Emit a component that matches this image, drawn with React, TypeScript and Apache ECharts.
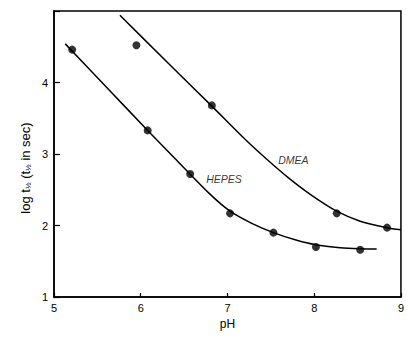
import React, { useEffect, useRef } from "react";
import * as echarts from "echarts";

const xTicks = [5, 6, 7, 8, 9];
const yTicks = [1, 2, 3, 4, 5];

const hepesPoints: [number, number][] = [
  [5.21, 4.46], [6.08, 3.33], [6.57, 2.72], [7.03, 2.17], [7.53, 1.9], [8.02, 1.7], [8.53, 1.66],
];
const dmeaPoints: [number, number][] = [
  [5.95, 4.52], [6.82, 3.68], [8.26, 2.17], [8.84, 1.97],
];
const hepesCurve: [number, number][] = [
  [5.13, 4.54], [5.6, 3.94], [6.08, 3.33], [6.4, 2.93], [6.78, 2.46],
  [7.03, 2.2], [7.28, 2.03], [7.53, 1.9], [7.78, 1.8], [8.02, 1.73], [8.3, 1.69], [8.53, 1.675], [8.72, 1.67],
];
const dmeaCurve: [number, number][] = [
  [5.76, 4.94], [6.3, 4.29], [6.82, 3.67], [7.2, 3.21], [7.45, 2.93], [7.7, 2.67],
  [7.95, 2.44], [8.26, 2.2], [8.53, 2.06], [8.84, 1.97], [9.0, 1.94],
];
const curveLabels: { name: string; value: [number, number] }[] = [
  { name: "HEPES", value: [6.96, 2.65] },
  { name: "DMEA", value: [7.76, 2.91] },
];

export default function App() {
  const ref = useRef<HTMLDivElement>(null);
  useEffect(() => {
    if (!ref.current) return;
    const chart = echarts.init(ref.current, null, { renderer: "svg" });
    const font = "Liberation Sans, Arial, sans-serif";
    chart.setOption({
      animation: false,
      backgroundColor: "#fff",
      grid: {
        left: 54, right: 3, top: 11, bottom: 40,
        show: true, borderColor: "#000", borderWidth: 1.5,
      },
      xAxis: {
        type: "value", min: xTicks[0], max: xTicks[xTicks.length - 1], interval: 1,
        name: "pH", nameLocation: "middle", nameGap: 20,
        nameTextStyle: { color: "#000", fontSize: 12, fontFamily: font },
        axisLine: { lineStyle: { color: "#000", width: 1.5 } },
        axisTick: { inside: true, length: 4, lineStyle: { color: "#000", width: 1.2 } },
        axisLabel: { color: "#000", fontSize: 11, fontFamily: font, margin: 5 },
        splitLine: { show: false },
      },
      yAxis: {
        type: "value", min: yTicks[0], max: yTicks[yTicks.length - 1], interval: 1,
        axisLine: { lineStyle: { color: "#000", width: 1.5 } },
        axisTick: { inside: true, length: 6, lineStyle: { color: "#000", width: 1.2 } },
        axisLabel: {
          color: "#000", fontSize: 11, fontFamily: font, margin: 6,
          formatter: (v: number) => (v === 5 ? "" : String(v)),
        },
        splitLine: { show: false },
      },
      graphic: [
        {
          type: "text",
          x: 25, y: 168, rotation: Math.PI / 2,
          style: {
            text: "log t{s|½} (t{s|½} in sec)",
            fill: "#000", fontSize: 13, fontFamily: font,
            align: "center", verticalAlign: "middle",
            rich: { s: { fontSize: 8, fill: "#000", fontFamily: font, padding: [6, 0, 0, 0] } },
          },
        },
      ],
      series: [
        {
          type: "line", data: hepesCurve, showSymbol: false, smooth: 0.25,
          lineStyle: { color: "#000", width: 1.5 }, silent: true,
        },
        {
          type: "line", data: dmeaCurve, showSymbol: false, smooth: 0.25,
          lineStyle: { color: "#000", width: 1.5 }, silent: true,
        },
        {
          type: "scatter", data: hepesPoints, symbolSize: 8, itemStyle: { color: "#000" },
        },
        {
          type: "scatter", data: dmeaPoints, symbolSize: 8, itemStyle: { color: "#000" },
        },
        {
          type: "scatter", data: curveLabels, symbolSize: 0,
          label: {
            show: true, position: "inside", formatter: (p: any) => p.name,
            color: "#000", fontSize: 10.5, fontStyle: "italic", fontFamily: font,
          },
        },
      ],
    });
    return () => chart.dispose();
  }, []);
  return (
    <div
      ref={ref}
      style={{ position: "absolute", left: 0, top: 0, width: 407, height: 337 }}
    />
  );
}
